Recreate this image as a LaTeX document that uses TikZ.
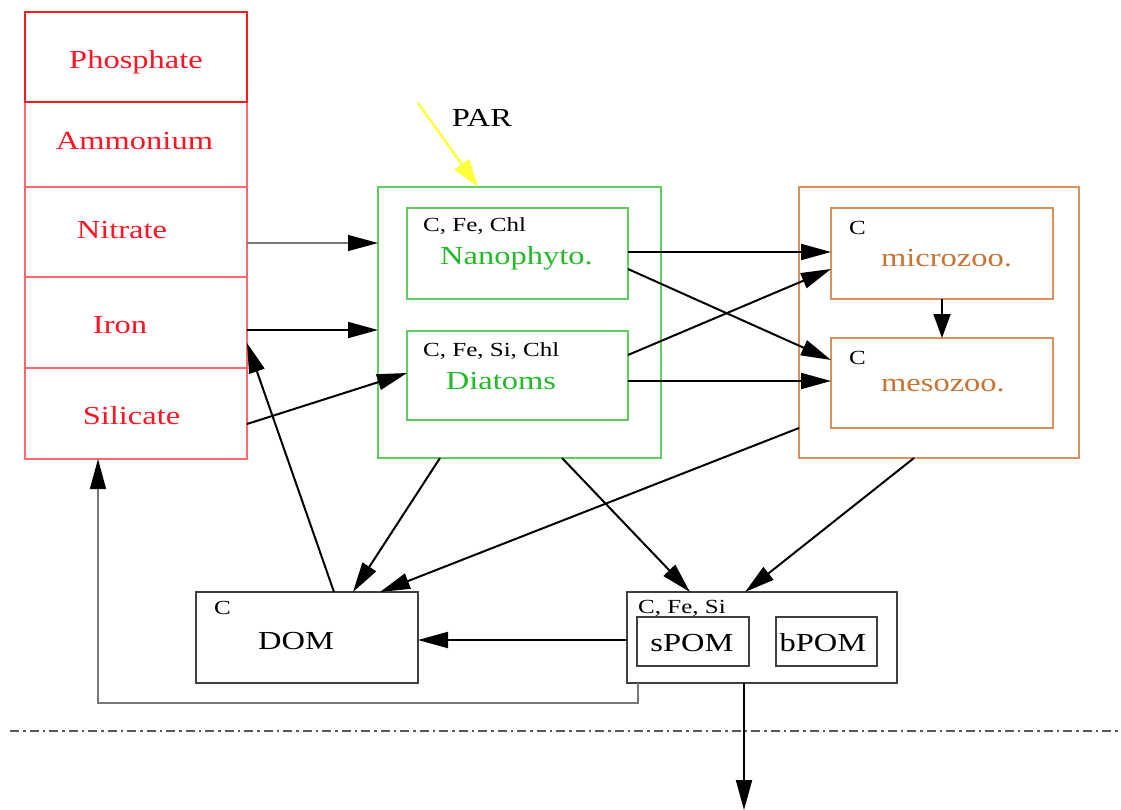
\documentclass[tikz,border=0pt]{standalone}
\usepackage{fontspec}
\setmainfont{Liberation Serif}
\usepackage{graphicx}
\usetikzlibrary{arrows.meta,calc}
\definecolor{redA}{RGB}{255,25,30}
\definecolor{redB}{RGB}{255,105,110}
\definecolor{redT}{RGB}{255,20,35}
\definecolor{grnL}{RGB}{95,205,95}
\definecolor{grnT}{RGB}{35,185,40}
\definecolor{orgL}{RGB}{215,145,95}
\definecolor{orgT}{RGB}{200,115,50}
\definecolor{yelA}{RGB}{255,255,60}
\definecolor{grayL}{RGB}{120,120,120}
\newcommand\W[1]{\scalebox{1.25}[1]{#1}}
\tikzset{
  box/.style={draw, rectangle, inner sep=0pt, outer sep=0pt},
  redtop/.style={box, draw=redA, line width=2.4pt},
  redbox/.style={box, draw=redB, line width=1.6pt},
  grnbox/.style={box, draw=grnL, line width=1.5pt},
  orgbox/.style={box, draw=orgL, line width=1.5pt},
  blkbox/.style={box, draw=black!75, line width=1.4pt},
  big/.style={font=\fontsize{26}{30}\selectfont, inner sep=0pt, anchor=base},
  small/.style={font=\fontsize{20}{24}\selectfont, inner sep=0pt, anchor=base west},
  tip/.style={-{Triangle[length=30pt,width=16pt,color=black]}},
  flow/.style={tip, draw=black, line width=2pt},
  thinflow/.style={tip, draw=grayL, line width=1.2pt},
}
\begin{document}
\begin{tikzpicture}[x=1pt,y=-1pt]
\useasboundingbox (0,0) rectangle (1121,810);
% nutrient column
\node[redbox, minimum width=222, minimum height=85] (amm) at (136,144.5) {};
\node[redbox, minimum width=222, minimum height=90] (nit) at (136,232) {};
\node[redbox, minimum width=222, minimum height=91] (iron) at (136,322.5) {};
\node[redbox, minimum width=222, minimum height=91] (sil) at (136,413.5) {};
\node[redtop, minimum width=222, minimum height=90] (phos) at (136,57) {};
\node[big, text=redT] (tphos) at (136,69) {\W{Phosphate}};
\node[big, text=redT] (tamm) at (134.5,150) {\W{Ammonium}};
\node[big, text=redT] (tnit) at (122,239) {\W{Nitrate}};
\node[big, text=redT] (tiron) at (120,333) {\W{Iron}};
\node[big, text=redT] (tsil) at (131.5,424) {\W{Silicate}};
% phytoplankton
\node[grnbox, minimum width=283, minimum height=271] (green) at (519.5,322.5) {};
\node[grnbox, minimum width=221, minimum height=91] (nano) at (517.5,253.5) {};
\node[grnbox, minimum width=221, minimum height=89] (diat) at (517.5,375.5) {};
\node[small] (lnano) at (423,232) {\W{C, Fe, Chl}};
\node[big, text=grnT] (tnano) at (516.5,265) {\W{Nanophyto.}};
\node[small] (ldiat) at (423,356) {\W{C, Fe, Si, Chl}};
\node[big, text=grnT] (tdiat) at (501,389) {\W{Diatoms}};
% zooplankton
\node[orgbox, minimum width=280, minimum height=271] (zoo) at (939,322.5) {};
\node[orgbox, minimum width=222, minimum height=91] (micro) at (942,253.5) {};
\node[orgbox, minimum width=222, minimum height=90] (meso) at (942,383) {};
\node[small] (lmicro) at (849,235) {\W{C}};
\node[big, text=orgT] (tmicro) at (946.5,266) {\W{microzoo.}};
\node[small] (lmeso) at (849,364) {\W{C}};
\node[big, text=orgT] (tmeso) at (943,391) {\W{mesozoo.}};
% DOM / POM
\node[blkbox, minimum width=222, minimum height=91] (dom) at (307,637.5) {};
\node[small] (ldom) at (214,614) {\W{C}};
\node[big] (tdom) at (296,649) {\W{DOM}};
\node[blkbox, minimum width=270, minimum height=91] (pom) at (762,637.5) {};
\node[blkbox, minimum width=112, minimum height=49] (spom) at (693,641.5) {};
\node[blkbox, minimum width=101, minimum height=49] (bpom) at (826.5,641.5) {};
\node[small] (lpom) at (638,613) {\W{C, Fe, Si}};
\node[big] (tspom) at (692,651) {\W{sPOM}};
\node[big] (tbpom) at (823,651) {\W{bPOM}};
% PAR
\node[big] (par) at (482,127) {\W{PAR}};
\coordinate (parstart) at (418,103);
\draw[draw=yelA, line width=2.5pt, -{Triangle[length=28pt,width=18pt]}] (parstart) -- ([xshift=-41.5pt]green.north);
% nutrient uptake
\draw[thinflow] ([yshift=-11pt]nit.east) -- ([yshift=79.5pt]green.west);
\draw[flow] ([yshift=-7.5pt]iron.east) -- ([yshift=-7.5pt]green.west);
\draw[flow] ([yshift=-10.5pt]sil.east) -- ([yshift=2.5pt]diat.west);
% grazing
\draw[flow] ([yshift=1.5pt]nano.east) -- ([yshift=1.5pt]micro.west);
\draw[flow] ([yshift=-15.5pt]nano.east) -- ([yshift=-106.5pt]micro.west);
\draw[flow] ([yshift=20.5pt]diat.east) -- ([yshift=-15.5pt]micro.west);
\draw[flow] ([yshift=-5.5pt]diat.east) -- ([yshift=2pt]meso.west);
\draw[flow, -{Triangle[length=24pt,width=17pt]}] (micro.south) -- (meso.north);
% to DOM / POM
\draw[flow] ([xshift=27pt]dom.north) -- ([yshift=25pt]iron.south east);
\draw[flow] ([xshift=-79.5pt]green.south) -- ([xshift=46pt]dom.north);
\draw[flow] ([yshift=-105.5pt]zoo.west) -- ([xshift=73pt]dom.north);
\draw[flow] ([xshift=42.5pt]green.south) -- ([xshift=-72pt]pom.north);
\draw[flow] ([xshift=-25pt]zoo.south) -- ([xshift=-17pt]pom.north);
\draw[flow] ([yshift=-2.5pt]pom.west) -- ([yshift=-2.5pt]dom.east);
\draw[thinflow] ([xshift=11pt]pom.south west) -- ++(0,20) -| ([xshift=-38pt]sil.south);
\coordinate (sink) at (744,810);
\draw[flow] ([xshift=-18pt]pom.south) -- (sink);
% euphotic limit
\coordinate (dl) at (10,731);
\coordinate (dr) at (1121,731);
\draw[draw=black!65, line width=1.2pt, dash pattern=on 9pt off 4pt on 2.5pt off 4pt] (dl) -- (dr);
\end{tikzpicture}
\end{document}
